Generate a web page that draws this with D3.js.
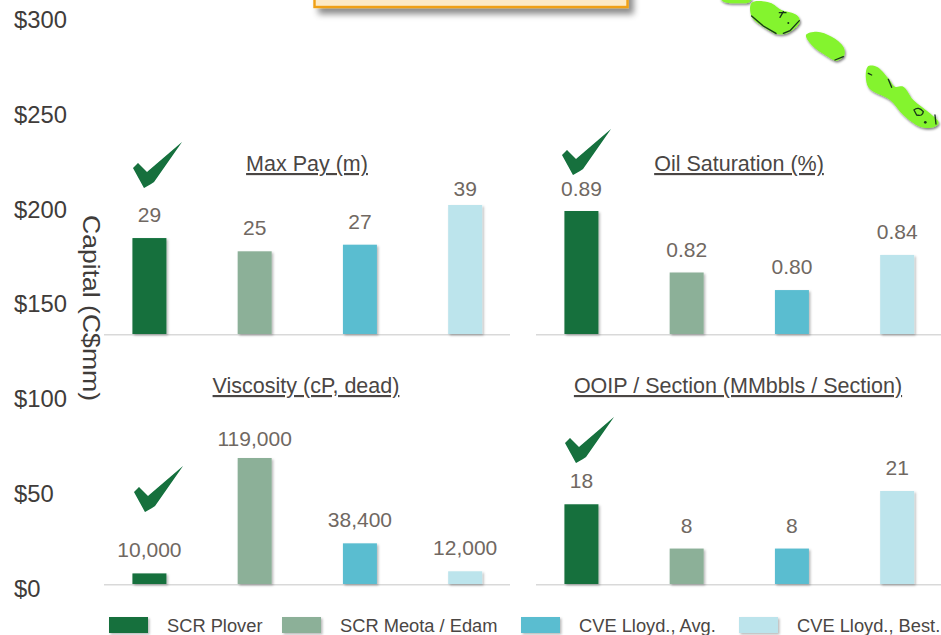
<!DOCTYPE html>
<html><head><meta charset="utf-8">
<script src="https://cdn.jsdelivr.net/npm/d3@7"></script>
<style>
html,body{margin:0;padding:0;background:#fff;overflow:hidden}
svg{display:block;font-family:"Liberation Sans",Arial,sans-serif}
</style></head><body>
<svg id="c" width="941" height="635"></svg>
<script>
const categories = ["SCR Plover","SCR Meota / Edam","CVE Lloyd., Avg.","CVE Lloyd., Best."];
const colors = ["#12703c","#8cb098","#5abdd0","#bce4ec"];
const capitalTicks = [0,50,100,150,200,250,300];
const maxPay = [29,25,27,39];
const oilSaturation = [0.89,0.82,0.80,0.84];
const viscosity = [10000,119000,38400,12000];
const ooip = [18,8,8,21];
const panelTitles = ["Max Pay (m)","Oil Saturation (%)","Viscosity (cP, dead)","OOIP / Section (MMbbls / Section)"];
const checkedCategory = "SCR Plover";

const svg = d3.select("#c");
const defs = svg.append("defs");
function shadow(id,dx,dy,b,o){
  const f = defs.append("filter").attr("id",id).attr("x","-30%").attr("y","-30%").attr("width","170%").attr("height","170%");
  f.append("feDropShadow").attr("dx",dx).attr("dy",dy).attr("stdDeviation",b).attr("flood-color","#000").attr("flood-opacity",o);
}
shadow("barS",1.5,1.5,1.3,0.28);
shadow("boxS",5,6,3,0.45);
shadow("blobS",3,5,2.5,0.5);
shadow("checkS",0,0,0.3,0.15);
defs.append("filter").attr("id","soft").append("feGaussianBlur").attr("stdDeviation",1.4);

// Background call-out box (cut by the top edge)
svg.append("rect").attr("x",314.5).attr("y",-30).attr("width",313).attr("height",37)
  .attr("fill","#fdeac6").attr("stroke","#f0a012").attr("stroke-width",2.4).attr("filter","url(#boxS)");

// Map fragments in the top-right corner
const blobs = [
  [[60,-6],[155,-6],[150,6],[110,10],[75,7]],
  [[155,8],[210,8],[245,30],[290,45],[300,65],[270,95],[235,103],[190,80],[155,50]],
  [[318,105],[350,95],[395,110],[430,140],[433,165],[410,182],[375,165],[335,135]],
  [[503,200],[530,200],[565,235],[585,260],[610,260],[640,300],[690,340],[716,368],[700,382],[660,380],[610,345],[570,300],[505,262]]
];
const marks = [
  "M155,48 L190,78 L228,100", "M298,62 L270,92 L250,100", "M240,52 L250,35 M238,38 L258,38",
  "M405,180 L430,170", "M505,220 L515,225", "M565,238 L575,262",
  "M642,330 Q655,318 670,335 Q668,350 650,345 Z", "M705,345 L708,372"
];
const blobG = svg.append("g").attr("transform","translate(700,0) scale(0.3333)").attr("filter","url(#blobS)");
const blobInner = blobG.append("g").attr("filter","url(#soft)");
const blobLine = d3.line().curve(d3.curveCatmullRomClosed.alpha(0.5));
blobInner.selectAll("path.b").data(blobs).join("path").attr("class","b").attr("d",blobLine).attr("fill","#84f42e");
blobInner.selectAll("path.m").data(marks).join("path").attr("class","m").attr("d",d=>d)
  .attr("fill","none").attr("stroke","#16351a").attr("stroke-width",4).attr("stroke-linecap","round");
blobInner.append("circle").attr("cx",676).attr("cy",367).attr("r",4).attr("fill","#16351a");
blobInner.append("circle").attr("cx",265).attr("cy",69).attr("r",3).attr("fill","#16351a");

// Left capital axis
const yCapital = d3.scaleLinear().domain([0,300]).range([588,19]);
const axisG = svg.append("g").attr("transform","translate(67,0)")
  .call(d3.axisLeft(yCapital).tickValues(capitalTicks).tickSize(0).tickFormat(d=>"$"+d));
axisG.select(".domain").remove();
axisG.selectAll("text").attr("x",-53).attr("dy","0.35em").attr("text-anchor","start")
  .attr("font-size",23.8).attr("font-family","'Liberation Sans',Arial,sans-serif").attr("fill","#403c3a");
svg.append("text").attr("transform","translate(83,308) rotate(90)").attr("text-anchor","middle")
  .attr("font-size",24).attr("textLength",186).attr("lengthAdjust","spacingAndGlyphs").attr("fill","#403c3a").text("Capital (C$mm)");

// Panels
const panels = [
  {values:maxPay, domain:[0,39], base:334, top:205, x0:96.8, ax:[104,510], labelMin:189, tc:307, ty:164, fmt:d3.format("d"), check:[133,142]},
  {values:oilSaturation, domain:[0.75,0.89], base:334, top:211, x0:528.8, ax:[536,941], labelMin:189, tc:739, ty:164, fmt:d3.format(".2f"), check:[562,129]},
  {values:viscosity, domain:[0,119000], base:584, top:458, x0:96.8, ax:[104,510], labelMin:439, tc:306, ty:386, fmt:d3.format(","), check:[134,466]},
  {values:ooip, domain:[0,21], base:584, top:491, x0:528.8, ax:[536,941], labelMin:450, tc:738, ty:386, fmt:d3.format("d"), check:[565,417]}
];
const checkShape = [[0,26],[5,21],[14,30],[49,0],[21,40],[18,42],[11,46]];

panels.forEach((p,i)=>{
  const g = svg.append("g");
  const x = d3.scaleBand().domain(categories).range([p.x0,p.x0+421]).paddingInner(0.677).paddingOuter(0.3385);
  const y = d3.scaleLinear().domain(p.domain).range([p.base,p.top]);
  g.append("line").attr("x1",p.ax[0]).attr("x2",p.ax[1]).attr("y1",p.base+0.8).attr("y2",p.base+0.8)
    .attr("stroke","#d9d9d9").attr("stroke-width",1.6);
  const rows = categories.map((c,j)=>({c,v:p.values[j],col:colors[j]}));
  g.selectAll("rect").data(rows).join("rect")
    .attr("x",d=>x(d.c)).attr("width",x.bandwidth())
    .attr("y",d=>y(d.v)).attr("height",d=>p.base-y(d.v))
    .attr("fill",d=>d.col).attr("filter","url(#barS)");
  g.selectAll("text.v").data(rows).join("text").attr("class","v")
    .attr("x",d=>x(d.c)+x.bandwidth()/2).attr("y",d=>Math.max(y(d.v)-23,p.labelMin)+7)
    .attr("text-anchor","middle").attr("font-size",21).attr("fill","#706862").text(d=>p.fmt(d.v));
  g.append("text").attr("x",p.tc).attr("y",p.ty+7).attr("text-anchor","middle")
    .attr("font-size",21.5).attr("fill","#4a4644").attr("text-decoration","underline").text(panelTitles[i]);
  if (categories.includes(checkedCategory))
    g.append("path").attr("transform",`translate(${p.check[0]},${p.check[1]})`)
      .attr("d",d3.line().curve(d3.curveLinearClosed)(checkShape)).attr("fill","#12703c").attr("filter","url(#checkS)");
});

// Legend
const legendSwatchX = d3.scaleOrdinal().domain(categories).range([109,282,521,739]);
const lg = svg.append("g");
lg.selectAll("rect").data(categories).join("rect")
  .attr("x",d=>legendSwatchX(d)).attr("y",617).attr("width",39).attr("height",16)
  .attr("fill",(d,i)=>colors[i]).attr("filter","url(#barS)");
lg.selectAll("text").data(categories).join("text")
  .attr("x",d=>legendSwatchX(d)+58).attr("y",632).attr("font-size",18.3).attr("fill","#4a4644")
  .text(d=>d);
</script>
</body></html>
